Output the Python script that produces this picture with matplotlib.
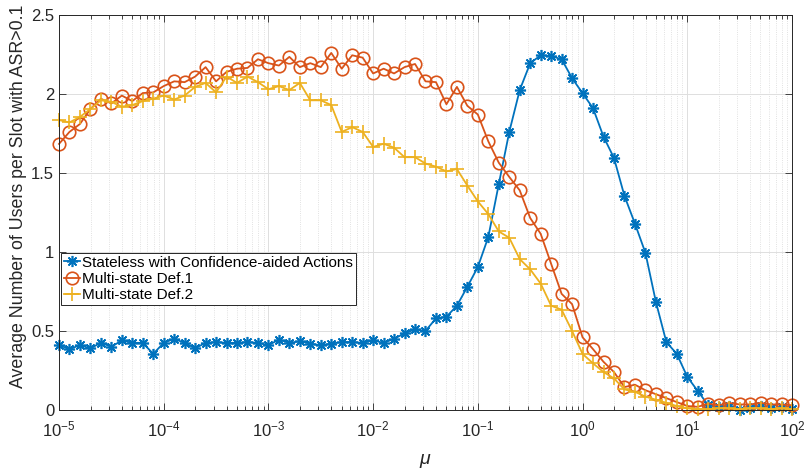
import numpy as np
import matplotlib.pyplot as plt
from matplotlib.ticker import LogLocator, NullFormatter

plt.rcParams['font.family'] = ['Liberation Sans', 'DejaVu Sans']
plt.rcParams['mathtext.fontset'] = 'custom'
plt.rcParams['mathtext.rm'] = 'Liberation Sans'
plt.rcParams['mathtext.it'] = 'Liberation Sans:italic'

# step sizes, 10 per decade
mu = np.logspace(-5, 2, 71)

stateless = [0.41, 0.385, 0.41, 0.39, 0.425, 0.40, 0.44, 0.425, 0.425, 0.355,
             0.425, 0.45, 0.425, 0.39, 0.425, 0.43, 0.425, 0.425, 0.43, 0.425,
             0.41, 0.445, 0.425, 0.435, 0.42, 0.41, 0.42, 0.43, 0.43, 0.425,
             0.44, 0.425, 0.45, 0.485, 0.51, 0.50, 0.58, 0.59, 0.66, 0.78,
             0.905, 1.095, 1.43, 1.76, 2.025, 2.195, 2.245, 2.24, 2.22, 2.10,
             2.005, 1.91, 1.73, 1.595, 1.355, 1.18, 0.995, 0.685, 0.43, 0.355,
             0.21, 0.12, 0.03, 0.02, 0.025, 0.0, 0.015, 0.025, 0.01, 0.02,
             0.005]

def1 = [1.684, 1.76, 1.81, 1.905, 1.97, 1.94, 1.99, 1.955, 2.006, 2.01,
        2.05, 2.08, 2.075, 2.11, 2.17, 2.08, 2.14, 2.16, 2.165, 2.22,
        2.195, 2.18, 2.235, 2.17, 2.195, 2.17, 2.26, 2.16, 2.245, 2.23,
        2.13, 2.16, 2.13, 2.17, 2.19, 2.08, 2.075, 1.935, 2.045, 1.925,
        1.87, 1.70, 1.565, 1.475, 1.39, 1.215, 1.115, 0.925, 0.735, 0.67,
        0.46, 0.385, 0.305, 0.24, 0.145, 0.16, 0.125, 0.10, 0.075, 0.05,
        0.025, 0.02, 0.04, 0.03, 0.045, 0.035, 0.035, 0.045, 0.035, 0.035,
        0.03]

def2 = [1.835, 1.82, 1.855, 1.905, 1.96, 1.95, 1.92, 1.93, 1.955, 1.97,
        1.99, 1.965, 1.99, 2.045, 2.07, 2.01, 2.11, 2.07, 2.11, 2.075,
        2.03, 2.05, 2.025, 2.07, 1.96, 1.96, 1.93, 1.76, 1.79, 1.76,
        1.665, 1.685, 1.66, 1.60, 1.60, 1.56, 1.54, 1.51, 1.525, 1.42,
        1.32, 1.24, 1.13, 1.09, 0.955, 0.89, 0.80, 0.66, 0.635, 0.50,
        0.355, 0.295, 0.24, 0.20, 0.13, 0.115, 0.085, 0.065, 0.045, 0.025,
        0.01, 0.005, 0.005, 0.01, 0.01, 0.005, 0.01, 0.01, 0.005, 0.01,
        0.005]

labels = ['Stateless with Confidence-aided Actions',
          'Multi-state Def.1',
          'Multi-state Def.2']

fig = plt.figure(figsize=(8.07, 4.70), dpi=100)
ax = fig.add_axes([0.0731, 0.1277, 0.9083, 0.8404])

ax.plot(mu, stateless, '-', marker=(8, 2, 0), color='#0072BD', lw=1.3, ms=8,
        mew=1.2, label=labels[0], clip_on=False)
ax.plot(mu, def1, '-o', color='#D95319', lw=1.3, ms=9, mew=1.2, mfc='none',
        label=labels[1], clip_on=False)
ax.plot(mu, def2, '-+', color='#EDB120', lw=1.3, ms=10, mew=1.2,
        label=labels[2], clip_on=False)

ax.set_xscale('log')
ax.set_xlim(1e-5, 1e2)
ax.set_ylim(0, 2.5)
ax.set_yticks([0, 0.5, 1, 1.5, 2, 2.5])
ax.set_yticklabels(['0', '0.5', '1', '1.5', '2', '2.5'])
ax.xaxis.set_major_locator(LogLocator(base=10, numticks=20))
ax.xaxis.set_minor_locator(LogLocator(base=10, subs=np.arange(2, 10), numticks=20))
ax.xaxis.set_minor_formatter(NullFormatter())

ax.grid(True, which='major', color='#dedede', lw=0.7, ls='-')
ax.grid(True, which='minor', axis='x', color='#d8d8d8', lw=0.6, ls=':')
ax.set_axisbelow(True)

ax.tick_params(which='both', direction='in', top=True, right=True,
               labelsize=12, colors='#262626', width=0.6)
ax.tick_params(which='major', length=5)
ax.tick_params(which='minor', length=3)
ax.tick_params(axis='x', which='major', pad=7)
for s in ax.spines.values():
    s.set_color('#262626')
    s.set_linewidth(0.7)

ax.set_xlabel(r'$\mu$', fontsize=14, color='#262626', labelpad=9)
ax.set_ylabel('Average Number of Users per Slot with ASR>0.1', fontsize=12.8,
              color='#262626')
ax.yaxis.set_label_coords(-0.043, 0.54)

leg = ax.legend(loc='upper left', bbox_to_anchor=(0.003, 0.398), fontsize=11,
                frameon=True, fancybox=False, framealpha=1, edgecolor='#262626',
                handlelength=1.0, handletextpad=0.15, borderpad=0.2,
                labelspacing=0.15, borderaxespad=0)
leg.get_frame().set_linewidth(0.7)

fig.savefig('out.png', dpi=100)
